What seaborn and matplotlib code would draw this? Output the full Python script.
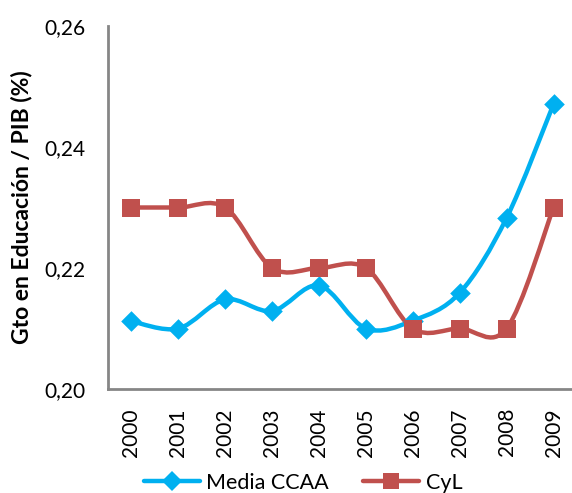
import numpy as np
import matplotlib
matplotlib.use("Agg")
import matplotlib.pyplot as plt
from matplotlib.path import Path
from matplotlib.patches import PathPatch
from matplotlib.lines import Line2D
from matplotlib.ticker import MultipleLocator, FixedLocator, FuncFormatter
import seaborn as sns
import pandas as pd

years = ["2000", "2001", "2002", "2003", "2004", "2005", "2006", "2007", "2008", "2009"]
media_ccaa = [0.2112, 0.2100, 0.2148, 0.2129, 0.2171, 0.2100, 0.2113, 0.2159, 0.2283, 0.2471]
cyl = [0.230, 0.230, 0.230, 0.220, 0.220, 0.220, 0.210, 0.210, 0.210, 0.230]
series_names = ["Media CCAA", "CyL"]
y_label = "Gto en Educación / PIB (%)"

BLUE = "#00B0F0"
RED = "#C0504D"
GREY = "#868686"

sns.set_style("white")
plt.rcParams["font.family"] = ["Lato", "DejaVu Sans"]
plt.rcParams["text.color"] = "black"
plt.rcParams["axes.labelcolor"] = "black"
plt.rcParams["xtick.labelcolor"] = "black"
plt.rcParams["ytick.labelcolor"] = "black"

fig = plt.figure(figsize=(5.72, 4.93), dpi=100)
ax = fig.add_axes([108 / 572, 1 - 389 / 493, 469 / 572, 363 / 493])

x = np.arange(len(years))
df = pd.DataFrame({"x": np.concatenate([x, x]),
                   "y": media_ccaa + cyl,
                   "s": [series_names[0]] * len(x) + [series_names[1]] * len(x)})


def smooth_path(xs, ys):
    pts = np.column_stack([xs, ys]).astype(float)
    n = len(pts)
    verts = [pts[0]]
    codes = [Path.MOVETO]
    for i in range(n - 1):
        p0 = pts[i - 1] if i > 0 else pts[i]
        p1 = pts[i]
        p2 = pts[i + 1]
        p3 = pts[i + 2] if i + 2 < n else pts[i + 1]
        c1 = p1 + (p2 - p0) / 6.0
        c2 = p2 - (p3 - p1) / 6.0
        verts += [c1, c2, p2]
        codes += [Path.CURVE4] * 3
    return Path(verts, codes)


for vals, col in [(media_ccaa, BLUE), (cyl, RED)]:
    ax.add_patch(PathPatch(smooth_path(x, vals), facecolor="none",
                           edgecolor=col, lw=3.2, capstyle="round", joinstyle="round", zorder=2))

sns.scatterplot(data=df[df.s == series_names[0]], x="x", y="y", color=BLUE, marker="D",
                s=110, linewidth=0, ax=ax, legend=False, zorder=3)
sns.scatterplot(data=df[df.s == series_names[1]], x="x", y="y", color=RED, marker="s",
                s=150, linewidth=0, ax=ax, legend=False, zorder=3)

ax.set_xlim(-0.5, 9.5)
ax.set_ylim(0.20, 0.26)
ax.set_xlabel("")
ax.set_ylabel(y_label, fontsize=16.5, fontweight="bold", labelpad=8)

ax.xaxis.set_major_locator(FixedLocator(x))
ax.xaxis.set_minor_locator(FixedLocator(np.arange(-0.5, 10, 1.0)))
ax.set_xticklabels(years, rotation=90, fontsize=15)
ax.yaxis.set_major_locator(MultipleLocator(0.02))
ax.yaxis.set_minor_locator(MultipleLocator(0.004))
ax.yaxis.set_major_formatter(FuncFormatter(lambda v, p: f"{v:.2f}".replace(".", ",")))
ax.tick_params(axis="y", which="both", direction="inout", length=9, width=1.5, color=GREY,
               labelsize=15, pad=12)
ax.tick_params(axis="x", which="major", direction="inout", length=7.5, width=1.5, color=GREY,
               labelsize=15, pad=10)
ax.tick_params(axis="x", which="minor", direction="out", length=4.5, width=1.5, color=GREY)

for s in ["top", "right"]:
    ax.spines[s].set_visible(False)
for s in ["left", "bottom"]:
    ax.spines[s].set_color(GREY)
    ax.spines[s].set_linewidth(2)

handles = [Line2D([], [], color=BLUE, lw=3.2, marker="D", markersize=10, markeredgewidth=0),
           Line2D([], [], color=RED, lw=3.2, marker="s", markersize=11, markeredgewidth=0)]
fig.legend(handles, series_names, loc="center", bbox_to_anchor=(303 / 572, 1 - 483 / 493),
           ncol=2, frameon=False, fontsize=15.5, handlelength=2.6, handletextpad=0.3,
           columnspacing=1.6)

fig.savefig("out.png", dpi=100)
